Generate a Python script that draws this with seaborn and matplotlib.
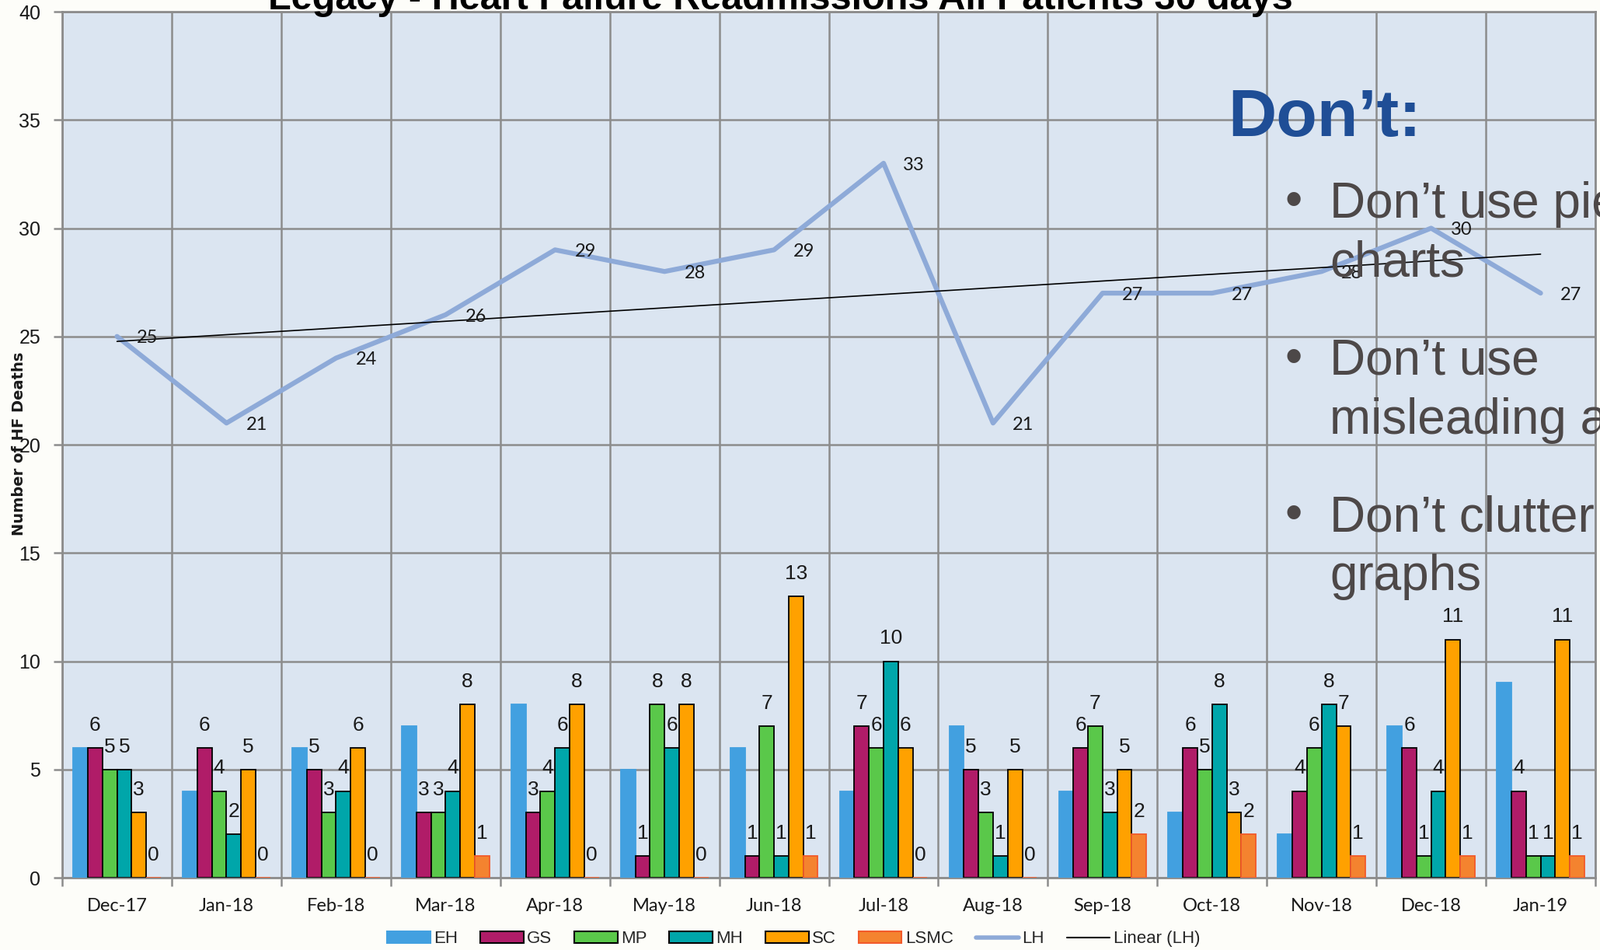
import numpy as np
import pandas as pd
import matplotlib
matplotlib.use("Agg")
import matplotlib.pyplot as plt
import seaborn as sns
from matplotlib.patches import Patch
from matplotlib.lines import Line2D

# --- data ---
months = ['Dec-17', 'Jan-18', 'Feb-18', 'Mar-18', 'Apr-18', 'May-18', 'Jun-18',
          'Jul-18', 'Aug-18', 'Sep-18', 'Oct-18', 'Nov-18', 'Dec-18', 'Jan-19']
eh = [6, 4, 6, 7, 8, 5, 6, 4, 7, 4, 3, 2, 7, 9]
gs = [6, 6, 5, 3, 3, 1, 1, 7, 5, 6, 6, 4, 6, 4]
mp = [5, 4, 3, 3, 4, 8, 7, 6, 3, 7, 5, 6, 1, 1]
mh = [5, 2, 4, 4, 6, 6, 1, 10, 1, 3, 8, 8, 4, 1]
sc = [3, 5, 6, 8, 8, 8, 13, 6, 5, 5, 3, 7, 11, 11]
lsmc = [0, 0, 0, 1, 0, 0, 1, 0, 0, 2, 2, 1, 1, 1]
lh = [25, 21, 24, 26, 29, 28, 29, 33, 21, 27, 27, 28, 30, 27]

sites = ['EH', 'GS', 'MP', 'MH', 'SC', 'LSMC']
site_values = [eh, gs, mp, mh, sc, lsmc]
colors = {'EH': '#42a0e0', 'GS': '#b01c68', 'MP': '#5ac84a',
          'MH': '#00a6aa', 'SC': '#ffa100', 'LSMC': '#f4832f'}
edges = {'EH': '#42a0e0', 'GS': 'black', 'MP': 'black',
         'MH': 'black', 'SC': 'black', 'LSMC': '#f25a2a'}
lh_color = '#8eaad8'
grid_color = '#8c8c8c'

title = 'Legacy - Heart Failure Readmissions All Patients 30 days'
ylabel = 'Number of HF Deaths'

df = pd.DataFrame({'month': months * len(sites),
                   'site': np.repeat(sites, len(months)),
                   'value': np.concatenate(site_values)})

sns.set_theme(style='white')
plt.rcParams['font.family'] = ['Liberation Sans', 'DejaVu Sans']

fig = plt.figure(figsize=(20.59, 12.22), dpi=100, facecolor='#fdfdf9')
ax = fig.add_axes([0.0389, 0.0761, 0.9582, 0.9116])
ax.set_facecolor('#dbe5f1')

sns.barplot(data=df, x='month', y='value', hue='site', hue_order=sites,
            order=months, palette=colors, width=0.8, saturation=1,
            legend=False, ax=ax)

# bar outlines + value labels (EH has none)
for site, cont in zip(sites, ax.containers):
    for bar in cont:
        bar.set_edgecolor(edges[site])
        bar.set_linewidth(1.3)
        bar.set_zorder(3)
    if site == 'EH':
        continue
    for bar in cont:
        h = bar.get_height()
        ax.text(bar.get_x() + bar.get_width() / 2, h + 1.05, f'{int(h)}',
                ha='center', va='center', fontsize=19, color='#1a1a1a', zorder=5)

# LH line and its linear trend
xs = np.arange(len(months))
sns.lineplot(x=xs, y=lh, color=lh_color, linewidth=4.5, ax=ax, zorder=4)
sns.regplot(x=xs, y=lh, scatter=False, ci=None, truncate=True, ax=ax,
            line_kws=dict(color='black', linewidth=1.2, zorder=4))
for i, v in enumerate(lh):
    ax.annotate(f'{v}', (i, v), xytext=(28, -1.5), textcoords='offset points',
                ha='center', va='center', fontsize=17, family='Lato',
                color='#1a1a1a', zorder=5)

# axes styling
ax.set_xlim(-0.5, len(months) - 0.5)
ax.set_ylim(0, 40)
ax.set_yticks(range(0, 41, 5))
ax.set_xticks(xs)
ax.set_xticklabels(months, fontsize=17, family='Lato')
ax.set_xticks(np.arange(-0.5, len(months), 1), minor=True)
ax.tick_params(axis='x', which='major', length=0, pad=19, colors='#1a1a1a')
ax.tick_params(axis='x', which='minor', length=8, width=1.8, color=grid_color,
               direction='out', bottom=True)
ax.tick_params(axis='y', length=8, width=1.8, color=grid_color, direction='out',
               left=True, pad=12, labelsize=18, labelcolor='#1a1a1a')
ax.grid(False)
ax.grid(True, axis='y', which='major', color=grid_color, linewidth=1.8, zorder=0)
ax.grid(True, axis='x', which='minor', color=grid_color, linewidth=1.8, zorder=0)
ax.set_axisbelow(True)
for sp in ax.spines.values():
    sp.set_color(grid_color)
    sp.set_linewidth(2)
ax.set_xlabel('')
ax.set_ylabel('')

fig.text(0.0117, 0.533, ylabel, rotation=90, ha='center', va='center',
         fontsize=14, fontweight='bold', family='DejaVu Sans', color='#1a1a1a')
fig.text(0.4876, 0.990, title, ha='center', va='baseline', fontsize=35,
         fontweight='bold', color='black')

# legend
handles = [Patch(facecolor=colors[s], edgecolor=edges[s], linewidth=1.5, label=s)
           for s in sites]
handles.append(Line2D([], [], color=lh_color, linewidth=4, label='LH'))
handles.append(Line2D([], [], color='black', linewidth=1.5, label='Linear (LH)'))
fig.legend(handles=handles, loc='center', bbox_to_anchor=(0.496, 0.0115),
           ncol=8, frameon=False, fontsize=16, handlelength=2.5,
           handleheight=0.7, handletextpad=0.2, columnspacing=1.3)

# slide text laid over the chart
fig.text(1580 / 2059, 1 - 175 / 1222, 'Don\u2019t:', fontsize=62, fontweight='bold',
         color='#1f4e96', va='baseline')
bullets = [('Don\u2019t use pie', 'charts', 280),
           ('Don\u2019t use', 'misleading axes', 482),
           ('Don\u2019t clutter', 'graphs', 683)]
for first, second, base in bullets:
    fig.text(1665 / 2059, 1 - (base - 2) / 1222, '\u2022', fontsize=46,
             color='#4d4848', va='baseline', ha='center')
    fig.text(1711 / 2059, 1 - base / 1222, first, fontsize=46,
             color='#4d4848', va='baseline')
    fig.text(1711 / 2059, 1 - (base + 76) / 1222, second, fontsize=46,
             color='#4d4848', va='baseline')

fig.savefig('out.png', dpi=100, facecolor=fig.get_facecolor())
